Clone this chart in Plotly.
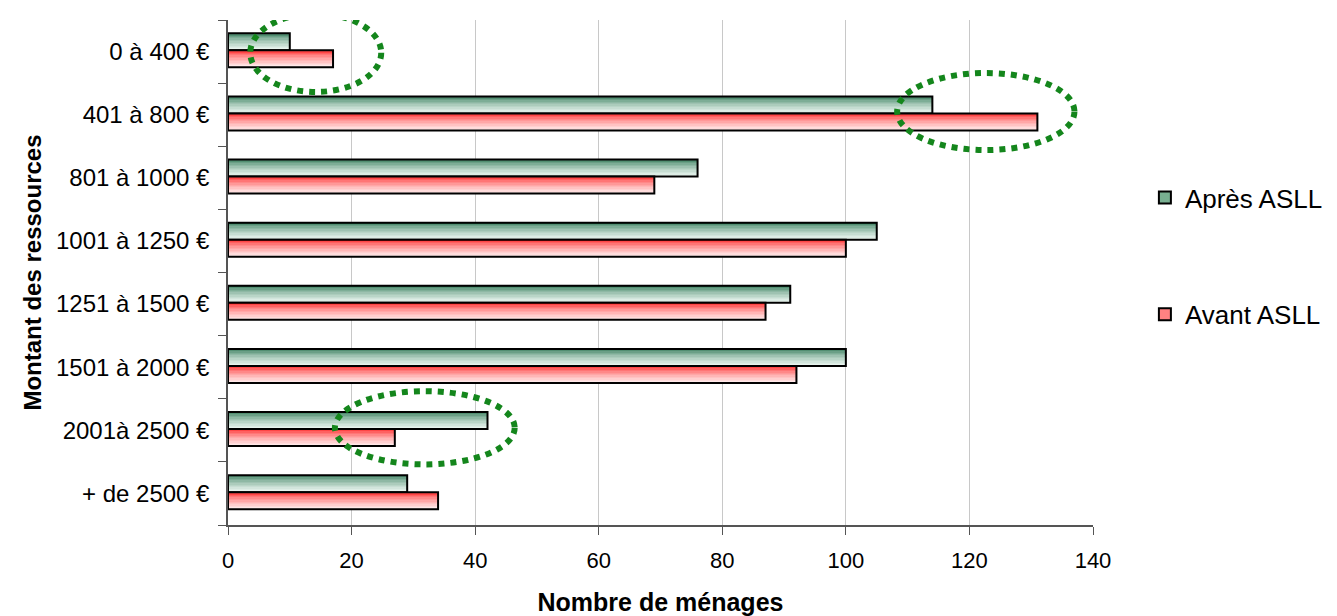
import plotly.graph_objects as go

categories = ["0 à 400 €", "401 à 800 €", "801 à 1000 €", "1001 à 1250 €",
              "1251 à 1500 €", "1501 à 2000 €", "2001à 2500 €", "+ de 2500 €"]
apres = [10, 114, 76, 105, 91, 100, 42, 29]
avant = [17, 131, 69, 100, 87, 92, 27, 34]
x_ticks = [0, 20, 40, 60, 80, 100, 120, 140]

FONT = "Liberation Sans, Arial, sans-serif"
N = 12
BAR_W = 0.27
series = [
    ("Après ASLL", apres, -0.29, (35, 112, 75), (232, 244, 238), "rgb(120,175,145)"),
    ("Avant ASLL", avant, -0.02, (255, 20, 20), (255, 232, 232), "rgb(255,130,130)"),
]

fig = go.Figure()
ypos = list(range(len(categories)))

for name, vals, off, ctop, cbot, mid in series:
    # gradient strips (top dark -> bottom light); y axis reversed so larger offset = lower
    for i in range(N):
        t = i / (N - 1)
        t2 = t ** 0.6
        col = tuple(round(ctop[k] + (cbot[k] - ctop[k]) * t2) for k in range(3))
        fig.add_trace(go.Bar(
            y=ypos, x=vals, orientation="h",
            offset=off + i * BAR_W / N, width=BAR_W / N + 0.002,
            marker=dict(color="rgb(%d,%d,%d)" % col, line=dict(width=0)),
            showlegend=False, hoverinfo="skip"))
    # outline
    fig.add_trace(go.Bar(
        y=ypos, x=vals, orientation="h", offset=off, width=BAR_W,
        marker=dict(color="rgba(0,0,0,0)", line=dict(color="black", width=2)),
        showlegend=False, name=name))

# legend proxies
for name, vals, off, ctop, cbot, mid in series:
    fig.add_trace(go.Bar(
        y=[0], x=[None], orientation="h", name=name,
        marker=dict(color=mid, line=dict(color="black", width=2)),
        legendgroup=name, showlegend=True))

# dotted ellipses
ellipses = [(3.6, 24.8, -0.6, 0.64), (108.3, 137.0, 0.34, 1.56), (17.3, 46.4, 5.38, 6.54)]
for x0, x1, y0, y1 in ellipses:
    fig.add_shape(type="circle", xref="x", yref="y", x0=x0, x1=x1, y0=y0, y1=y1,
                  line=dict(color="#14861c", width=6, dash="dot"), layer="above")

# page body has an 8px margin: shrink figure so it ends at the window edge
fig.update_layout(
    width=1329, height=608,
    margin=dict(l=220, r=244, t=12, b=91, autoexpand=False),
    barmode="overlay",
    plot_bgcolor="white", paper_bgcolor="white",
    font=dict(family=FONT, size=24, color="black"),
    legend=dict(x=1.06, y=0.695, xanchor="left", yanchor="top",
                tracegroupgap=80, font=dict(size=26), traceorder="grouped",
                itemwidth=30),
    showlegend=True,
)
fig.update_xaxes(
    range=[0, 140], tickvals=x_ticks, ticktext=[str(v) for v in x_ticks],
    showgrid=True, gridcolor="#c8c8c8", gridwidth=1,
    zeroline=False, showline=True, linecolor="#555", linewidth=1.5,
    ticks="outside", ticklen=8, tickcolor="#555", ticklabelstandoff=7,
    tickfont=dict(size=22),
    title=dict(text="<b>Nombre de ménages</b>", standoff=22, font=dict(size=25)),
)
fig.update_yaxes(
    range=[len(categories) - 0.5, -0.5],
    tickvals=ypos, ticktext=categories,
    showgrid=False, zeroline=False, showline=True, linecolor="#555", linewidth=1.5,
    ticks="", ticklabelstandoff=12,
    title=dict(text="<b>Montant des ressources</b>", standoff=8, font=dict(size=24)),
)
# boundary tick marks on y axis via minor ticks
fig.update_yaxes(minor=dict(tickvals=[i - 0.5 for i in range(len(categories) + 1)],
                            ticks="outside", ticklen=8, tickcolor="#555", showgrid=False))

fig.write_html("out.html")
